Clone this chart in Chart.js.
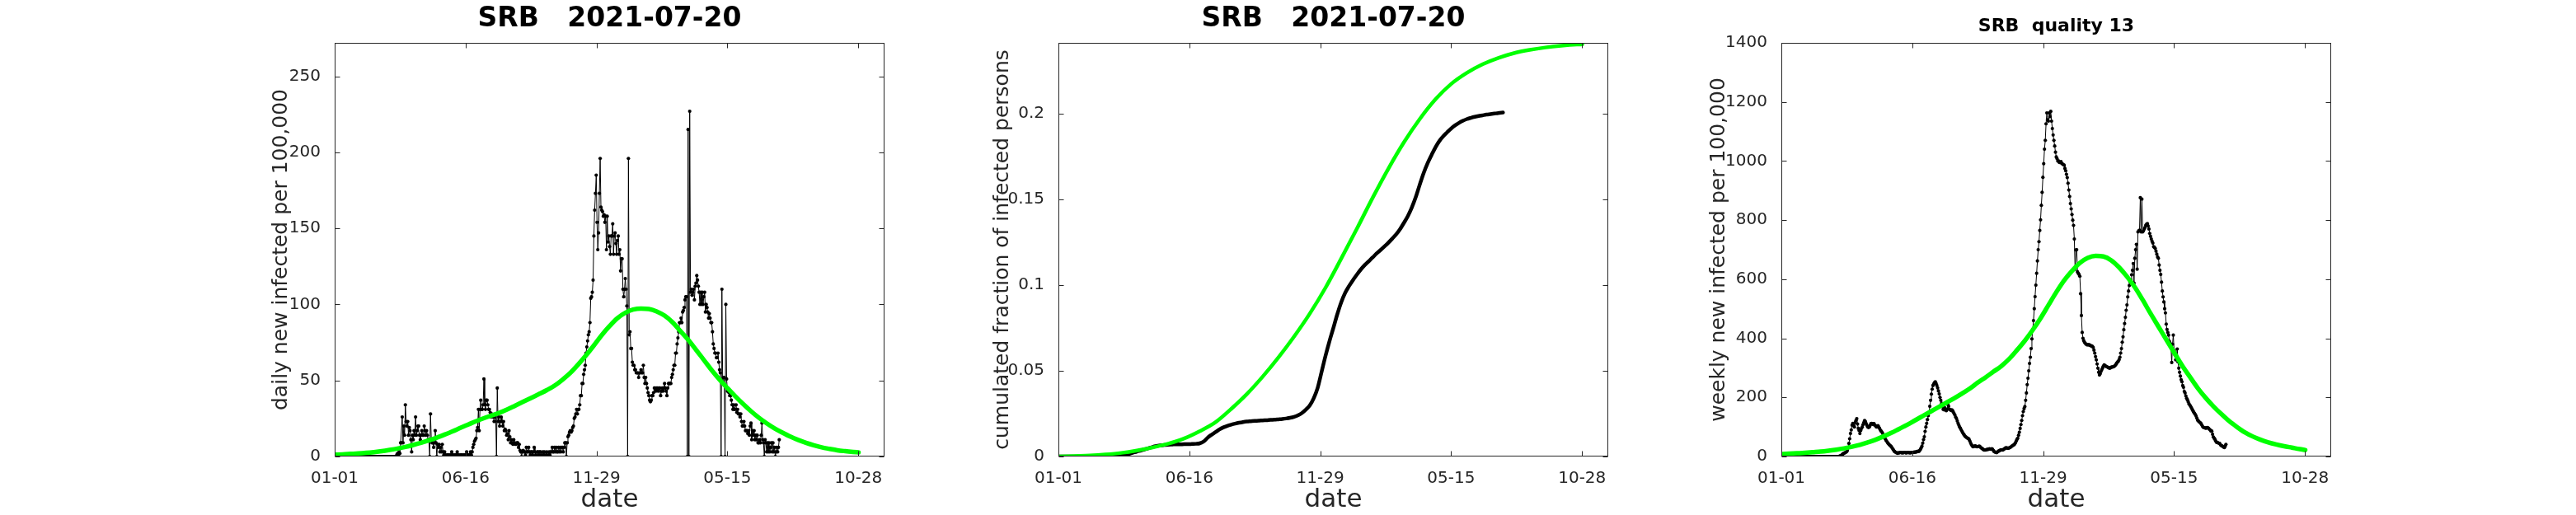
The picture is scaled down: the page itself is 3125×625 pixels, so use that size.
<!DOCTYPE html>
<html>
<head>
<meta charset="utf-8">
<script src="https://cdn.jsdelivr.net/npm/chart.js@4.4.1/dist/chart.umd.min.js"></script>
<style>
html,body{margin:0;padding:0;background:#fff;width:3125px;height:625px;overflow:hidden;}
.panel{position:absolute;top:0;height:625px;}
</style>
</head>
<body>
<div class="panel" id="p1" style="left:276px;width:837px;"><canvas id="c1" width="837" height="625"></canvas></div>
<div class="panel" id="p2" style="left:1154px;width:837px;"><canvas id="c2" width="837" height="625"></canvas></div>
<div class="panel" id="p3" style="left:2031px;width:837px;"><canvas id="c3" width="837" height="625"></canvas></div>
<script>
// ---------- x axis (days since 2020-01-01) ----------
const xTickDays = [0, 166.67, 333.33, 500, 666.67];
const xTickLabels = ['01-01', '06-16', '11-29', '05-15', '10-28'];

// ---------- panel 1: daily new infected per 100,000 (day 0 .. 566) ----------
const dailyNew = [
0,0,0,0,0,0,0,0,0,0,
0,0,0,0,0,0,0,0,0,0,
0,0,0,0,0,0,0,0,0,0,
0,0,0,0,0,0,0,0,0,0,
0,0,0,0,0,0,0,0,0,0,
0,0,0,0,0,0,0,0,0,0,
0,0,0,0,0,0,0,0,0,0,
0,0,0,0,0,0,0,0,0,1,
2,1,3,2,9,9,26,9,20,14,
34,23,20,23,14,19,17,11,3,14,
11,17,14,26,14,17,20,20,14,11,
14,17,14,14,20,17,14,17,14,11,
11,0,28,11,9,9,6,9,17,9,
0,8,6,8,3,6,3,8,3,1,
3,1,0,1,1,1,0,1,1,3,
1,1,0,1,1,1,3,1,1,0,
1,1,1,0,1,1,1,1,3,1,
1,1,1,3,1,3,6,8,10,11,
12,17,19,31,17,31,37,31,31,34,
51,34,31,37,37,34,31,31,29,26,
28,26,26,23,26,28,0,45,23,26,
20,23,26,23,20,23,17,18,17,14,
15,11,17,13,9,11,9,8,11,9,
8,8,9,9,6,8,4,3,0,3,
4,3,3,1,6,3,3,6,3,1,
3,3,1,3,6,3,1,0,3,3,
1,3,3,1,0,3,1,3,0,1,
3,0,1,3,1,3,3,6,3,3,
6,3,6,3,3,6,3,6,3,6,
6,3,6,9,9,0,9,13,14,16,
17,16,17,19,20,25,26,28,31,28,
31,31,34,40,40,48,48,54,57,60,
68,72,76,80,82,88,104,105,108,116,
145,162,173,185,154,136,147,173,196,164,
162,161,158,159,154,158,136,158,141,145,
138,133,145,145,153,133,145,147,140,133,
142,145,133,136,122,130,130,110,105,110,
117,110,99,0,196,80,82,71,71,62,
60,60,57,57,55,55,55,52,55,55,
57,55,55,60,52,48,52,48,45,42,
40,37,36,37,40,40,42,45,45,43,
45,45,43,45,45,40,43,45,43,45,
48,45,43,40,45,48,48,48,48,52,
54,57,60,60,68,68,74,78,82,88,
88,91,88,95,96,98,103,105,105,0,
215,0,227,108,110,106,108,110,103,112,
114,119,116,112,108,100,108,100,108,100,
105,108,95,100,98,95,91,94,91,88,
88,82,74,71,68,68,65,65,68,62,
57,55,0,110,49,52,52,0,100,51,
43,43,42,40,40,37,34,31,34,31,
31,34,29,31,28,28,26,28,23,20,
20,23,20,17,17,17,15,17,14,20,
22,11,17,14,17,11,14,11,14,9,
9,11,9,14,22,11,9,0,11,9,
3,9,3,9,3,6,9,3,9,3,
6,0,3,6,3,6,11
];
const fitDays = [0,10,20,30,40,50,60,70,80,90,100,110,120,130,140,150,160,170,180,190,200,210,220,230,240,250,260,270,280,290,300,310,320,330,340,350,360,370,380,390,400,410,420,430,440,450,460,470,480,490,500,510,520,530,540,550,560,570,580,590,600,610,620,630,640,650,660,667];
const fitDaily = [1.2,1.4,1.7,2.0,2.4,2.9,3.5,4.3,5.2,6.3,7.6,9.0,10.6,12.4,14.4,16.5,18.8,21.0,23.2,25.2,27.0,28.8,31.0,33.5,36.0,38.5,41.0,43.6,46.6,50.5,55.0,60.5,66.5,73.0,79.8,85.8,91.0,94.5,96.6,97.3,97.0,95.4,92.6,88.3,82.6,76.8,70.2,63.5,56.8,50.6,45.0,39.6,34.5,29.8,25.5,21.8,18.5,15.7,13.1,10.9,9.0,7.4,6.0,5.0,4.1,3.5,3.0,2.7];
const yTicks1 = [0, 50, 100, 150, 200, 250];
const yLabels1 = ['0', '50', '100', '150', '200', '250'];

// ---------- panel 2: cumulated fraction of infected persons ----------
const cumDays = [0,5,10,15,20,25,30,35,40,45,50,55,60,65,70,75,80,85,90,95,100,105,110,115,120,125,130,135,140,145,150,155,160,165,170,175,180,185,190,195,200,205,210,215,220,225,230,235,240,245,250,255,260,265,270,275,280,285,290,295,300,305,310,315,320,325,330,335,340,345,350,355,360,365,370,375,380,385,390,395,400,405,410,415,420,425,430,435,440,445,450,455,460,465,470,475,480,485,490,495,500,505,510,515,520,525,530,535,540,545,550,555,560,566];
const cumFraction = [0,0,0,0,0,0,0,0,0,0,0,0,0,0,0,0.0001,0.0003,0.0008,0.0015,0.0022,0.0029,0.0035,0.0042,0.0049,0.0056,0.0061,0.0065,0.0067,0.0069,0.0070,0.0071,0.0071,0.0072,0.0072,0.0073,0.0074,0.0077,0.0088,0.0110,0.0127,0.0142,0.0158,0.0170,0.0179,0.0186,0.0192,0.0197,0.0201,0.0204,0.0206,0.0208,0.0209,0.0211,0.0212,0.0214,0.0215,0.0217,0.0219,0.0222,0.0226,0.0232,0.0241,0.0254,0.0274,0.0298,0.0340,0.0400,0.0493,0.0587,0.0672,0.0750,0.0830,0.0900,0.0955,0.0995,0.1030,0.1062,0.1092,0.1118,0.1140,0.1162,0.1185,0.1205,0.1226,0.1248,0.1272,0.1297,0.1328,0.1365,0.1405,0.1455,0.1515,0.1587,0.1655,0.1712,0.1760,0.1805,0.1842,0.1870,0.1893,0.1915,0.1933,0.1948,0.1960,0.1970,0.1977,0.1983,0.1988,0.1992,0.1996,0.1999,0.2002,0.2005,0.2008];
const fitCumDays = [0,20,40,60,80,100,120,140,160,180,200,220,240,260,280,300,320,340,360,380,400,420,440,460,480,500,520,540,560,580,600,620,640,660,667];
const fitCum = [0,0.0003,0.0006,0.0012,0.0021,0.0035,0.0053,0.0075,0.0105,0.0148,0.0200,0.0278,0.0365,0.0466,0.0578,0.0700,0.0834,0.0985,0.1155,0.1330,0.1510,0.1680,0.1835,0.1970,0.2085,0.2175,0.2240,0.2290,0.2327,0.2355,0.2374,0.2388,0.2398,0.2405,0.2406];
const yTicks2 = [0, 0.05, 0.1, 0.15, 0.2];
const yLabels2 = ['0', '0.05', '0.1', '0.15', '0.2'];

// ---------- panel 3: weekly new infected per 100,000 (day 0 .. 566) ----------
const weeklyNew = [
0,0,0,0,0,0,0,0,0,0,
0,0,0,0,0,0,0,0,0,0,
0,0,0,0,0,0,0,0,0,0,
0,0,0,0,0,0,0,0,0,0,
0,0,0,0,0,0,0,0,0,0,
0,0,0,0,0,0,0,0,0,0,
0,0,0,0,0,0,0,0,0,0,
0,0,0,0,1,2,3,5,8,10,
11,13,14,16,20,30,44,60,78,90,
106,112,105,100,115,122,128,110,95,88,
78,88,95,100,108,115,122,118,111,105,
100,98,100,105,111,112,111,108,111,106,
104,100,100,104,100,95,90,86,83,78,
72,66,61,56,52,48,44,41,38,36,
33,29,25,21,17,15,14,12,11,12,
13,13,14,13,12,13,13,14,13,12,
13,14,13,13,12,13,14,13,14,15,
14,16,15,17,18,17,20,24,29,35,
45,57,67,85,100,112,125,138,148,170,
190,211,228,240,245,250,253,247,240,232,
222,212,200,190,180,170,160,158,165,158,
155,160,176,170,160,158,156,158,155,150,
145,140,133,128,120,112,106,100,95,90,
85,80,76,72,68,66,64,62,61,58,
52,45,40,36,33,34,35,36,34,33,
34,34,35,33,30,28,26,24,22,22,
22,23,24,24,25,26,25,25,26,24,
20,16,15,14,13,15,17,19,20,22,
22,23,22,24,26,28,30,29,28,28,
29,30,32,34,36,38,39,42,46,52,
58,62,72,82,95,108,122,138,152,162,
169,190,215,243,265,290,315,336,365,398,
429,460,500,541,580,620,662,700,727,765,
801,850,894,945,991,1040,1070,1126,1163,1140,
1135,1163,1150,1168,1135,1110,1088,1070,1051,1030,
1014,1008,1000,1000,995,995,998,992,990,988,
986,975,967,955,944,925,902,880,856,838,
819,800,782,736,634,699,700,625,620,616,
610,551,477,420,400,392,386,383,380,378,
378,378,378,376,375,374,373,369,360,350,
338,327,313,299,285,276,280,288,294,300,
306,310,308,306,304,303,301,300,299,300,
302,303,303,304,306,308,312,316,320,322,
328,336,350,365,387,405,429,450,471,495,
513,540,560,579,590,597,615,630,653,587,
671,700,718,634,760,764,766,876,760,871,
760,764,770,775,783,786,788,780,770,755,
745,736,728,722,710,708,704,695,685,675,
671,648,630,616,590,560,540,523,500,486,
448,430,420,411,390,383,373,318,380,411,
359,345,327,340,364,320,299,285,272,260,
253,240,234,220,215,205,197,192,185,178,
174,170,165,160,155,150,146,142,137,130,
123,120,117,115,113,108,103,99,98,97,
96,96,98,97,95,92,90,86,86,75,
66,62,58,52,48,48,46,45,44,40,
37,36,34,32,30,35,41
];
const fitWeekly = [8,9.5,11,12.5,14.5,16.5,19.5,23,27.5,33,39.5,47.5,57,68,80,93.5,107,122,137,152,167,182,197,213,230,250,268,287,306,330,360,392,428,468,512,556,596,628,655,672,679,677,664,640,609,573,530,484,440,396,352,309,270,232,199,170,144,120,100,82,68,57,48,41,35,30,25,22];
const yTicks3 = [0, 200, 400, 600, 800, 1000, 1200, 1400];
const yLabels3 = ['0', '200', '400', '600', '800', '1000', '1200', '1400'];

// ---------- drawing ----------
const FONT = 'DejaVu Sans';
const AXIS = '#262626';
const GREEN = '#00ff00';

const boxPlugin = {
  id: 'matlabBox',
  afterDraw(chart) {
    const {ctx, chartArea: a, scales} = chart;
    const L = Math.round(a.left) + 0.5, R = Math.round(a.right) - 0.5;
    const T = Math.round(a.top) + 0.5, B = Math.round(a.bottom) - 0.5;
    ctx.save();
    ctx.strokeStyle = AXIS;
    ctx.lineWidth = 1;
    ctx.strokeRect(L, T, R - L, B - T);
    ctx.beginPath();
    scales.x.ticks.forEach(t => {
      const p = Math.round(scales.x.getPixelForValue(t.value)) + 0.5;
      ctx.moveTo(p, B); ctx.lineTo(p, B - 6);
      ctx.moveTo(p, T); ctx.lineTo(p, T + 6);
    });
    scales.y.ticks.forEach(t => {
      const p = Math.round(scales.y.getPixelForValue(t.value)) + 0.5;
      ctx.moveTo(L, p); ctx.lineTo(L + 6, p);
      ctx.moveTo(R, p); ctx.lineTo(R - 6, p);
    });
    ctx.stroke();
    ctx.restore();
  }
};

function pts(xs, ys) { return ys.map((y, i) => ({x: xs[i], y: y})); }
function idxPts(ys) { return ys.map((y, i) => ({x: i, y: y})); }

function makeChart(id, opt) {
  new Chart(document.getElementById(id), {
    type: 'line',
    data: {datasets: opt.datasets},
    options: {
      responsive: false,
      animation: false,
      events: [],
      layout: {padding: {left: 0, right: 40, top: 0, bottom: 0}},
      plugins: {
        legend: {display: false},
        tooltip: {enabled: false},
        title: {
          display: true, text: opt.title, color: '#000', fullSize: false,
          font: {family: FONT, size: opt.titleSize, weight: 'bold', lineHeight: 1.2},
          padding: opt.titlePad
        }
      },
      scales: {
        x: {
          type: 'linear', min: 0, max: 700,
          afterBuildTicks: s => { s.ticks = xTickDays.map(v => ({value: v})); },
          afterFit: s => { s.height = 71; },
          grid: {display: false}, border: {display: false},
          ticks: {autoSkip: false, maxRotation: 0, minRotation: 0, padding: 7, color: AXIS,
                  font: {family: FONT, size: 20}, callback: (v, i) => xTickLabels[i]},
          title: {display: true, text: 'date', color: AXIS,
                  font: {family: FONT, size: 31, lineHeight: 1.15}, padding: {top: 0, bottom: 0}}
        },
        y: {
          type: 'linear', min: 0, max: opt.yMax,
          afterBuildTicks: s => { s.ticks = opt.yTicks.map(v => ({value: v})); },
          afterFit: s => { s.width = 130; },
          grid: {display: false}, border: {display: false},
          ticks: {autoSkip: false, padding: 9, color: AXIS,
                  font: {family: FONT, size: 20}, callback: (v, i) => opt.yLabels[i]},
          title: {display: true, text: opt.yTitle, color: AXIS,
                  font: {family: FONT, size: 25, lineHeight: 1.2}, padding: {top: opt.yTitlePad, bottom: 0}}
        }
      }
    },
    plugins: [boxPlugin]
  });
}

const greenStyle = w => ({borderColor: GREEN, backgroundColor: GREEN, borderWidth: w, pointRadius: 0,
  cubicInterpolationMode: 'monotone', borderCapStyle: 'round', borderJoinStyle: 'round', fill: false});
const dotStyle = {borderColor: '#000', backgroundColor: '#000', borderWidth: 1, pointRadius: 2.1,
  pointBorderWidth: 0, pointBackgroundColor: '#000', tension: 0, fill: false};

makeChart('c1', {
  title: 'SRB   2021-07-20', titleSize: 33, titlePad: {top: 4, bottom: 8.4},
  yMax: 272, yTicks: yTicks1, yLabels: yLabels1,
  yTitle: 'daily new infected per 100,000', yTitlePad: 50,
  datasets: [
    Object.assign({data: pts(fitDays, fitDaily)}, greenStyle(5.5)),
    Object.assign({data: idxPts(dailyNew)}, dotStyle)
  ]
});

makeChart('c2', {
  title: 'SRB   2021-07-20', titleSize: 33, titlePad: {top: 4, bottom: 8.4},
  yMax: 0.2415, yTicks: yTicks2, yLabels: yLabels2,
  yTitle: 'cumulated fraction of infected persons', yTitlePad: 47,
  datasets: [
    Object.assign({data: pts(fitCumDays, fitCum)}, greenStyle(4.5)),
    {data: pts(cumDays, cumFraction), borderColor: '#000', borderWidth: 4.5, pointRadius: 0,
     cubicInterpolationMode: 'monotone', borderCapStyle: 'round', fill: false}
  ]
});

makeChart('c3', {
  title: 'SRB  quality 13', titleSize: 22, titlePad: {top: 19, bottom: 6.6},
  yMax: 1400, yTicks: yTicks3, yLabels: yLabels3,
  yTitle: 'weekly new infected per 100,000', yTitlePad: 39.5,
  datasets: [
    Object.assign({data: pts(fitDays, fitWeekly)}, greenStyle(5.5)),
    Object.assign({data: idxPts(weeklyNew)}, dotStyle)
  ]
});
</script>
</body>
</html>
